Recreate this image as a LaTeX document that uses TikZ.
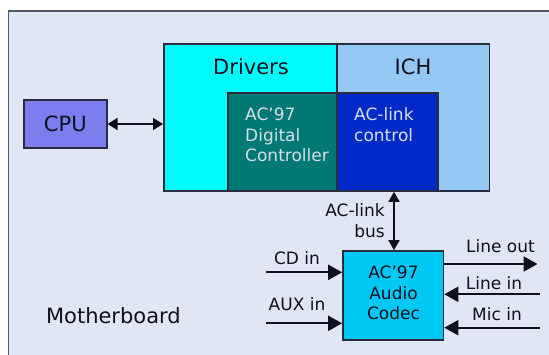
\documentclass[tikz,border=0pt]{standalone}
\usepackage{fontspec}
\setmainfont{DejaVu Sans}
\usetikzlibrary{positioning,arrows.meta}
\definecolor{board}{RGB}{224, 230, 246}
\definecolor{edge}{RGB}{40, 44, 60}
\definecolor{ink}{RGB}{15, 15, 30}
\definecolor{pale}{RGB}{215, 222, 230}
\definecolor{drv}{RGB}{0, 252, 250}
\definecolor{ich}{RGB}{150, 200, 245}
\definecolor{dig}{RGB}{0, 120, 115}
\definecolor{lnk}{RGB}{0, 42, 200}
\definecolor{cpu}{RGB}{125, 125, 240}
\definecolor{cdc}{RGB}{0, 200, 245}
\def\bigfont{\fontsize{21}{25}\selectfont}
\def\smallfont{\fontsize{17}{20.7}\selectfont}
\newcommand{\boxnode}[6]{\node[draw=edge,line width=1.6pt,inner sep=0pt,minimum width=#4pt,minimum height=#5pt,fill=#6] (#3) at (#1,#2) {};}
\tikzset{lbl/.style={inner sep=0pt,text=ink,font=\smallfont},
	sig/.style={line width=1.8pt,draw=ink,-{Triangle[length=14pt,width=15pt]}}}

\begin{document}
\begin{tikzpicture}[x=1pt,y=-1pt]
	\useasboundingbox (0,0) rectangle (549,354);
	\clip (0,0) rectangle (549,354);
	\fill[white] (0,0) rectangle (549,354);
	\draw[draw=edge!80,fill=board,line width=1.6pt] (8.4,11) rectangle (570,380);

	\boxnode{250.25}{117.5}{drivers}{172.9}{147}{drv}
	\boxnode{413}{117.5}{ich}{152.6}{147}{ich}
	\boxnode{282.3}{142}{digital}{108.8}{98}{dig}
	\boxnode{387.45}{142}{aclink}{101.5}{98}{lnk}
	\boxnode{65.3}{124}{cpu}{83}{48}{cpu}
	\boxnode{393.25}{295.5}{codec}{100.5}{89}{cdc}

	\node[lbl,font=\bigfont] (drvtext) at (251,67) {Drivers};
	\node[lbl,font=\bigfont] (ichtext) at (413,67) {ICH};
	\node[lbl,font=\bigfont] (cputext) at (cpu) {CPU};
	\node[lbl,text=pale,align=left,anchor=north west] (digtext) at (245,107.5) {AC’97\\Digital\\Controller};
	\node[lbl,text=pale,align=left,anchor=north west] (lnktext) at (354,107.5) {AC-link\\control};
	\node[lbl,align=center] (cdctext) at (393.5,293) {AC’97\\Audio\\Codec};
	\node[lbl,align=right,anchor=east] (bustext) at (385,221) {AC-link\\bus};
	\node[lbl,font=\bigfont] (mbtext) at (113.4,316) {Motherboard};

	\coordinate (cdin) at (266,272.3);
	\coordinate (auxin) at (266,323.3);
	\coordinate (lineout) at (537.5,264);
	\coordinate (linein) at (540,294.3);
	\coordinate (micin) at (540,327.7);
	\coordinate (bus) at (394,0);

	\node[lbl] (cdlbl) at (297,258) {CD in};
	\node[lbl] (auxlbl) at (297,304) {AUX in};
	\node[lbl] (outlbl) at (500.5,246) {Line out};
	\node[lbl] (inlbl) at (494,283) {Line in};
	\node[lbl] (miclbl) at (497,314) {Mic in};

	\draw[line width=1.6pt,draw=ink,{Triangle[length=10pt,width=12pt]}-{Triangle[length=10pt,width=12pt]}] (cpu.east) -- (cpu.east -| drivers.west);
	\draw[line width=1.6pt,draw=ink,{Triangle[length=10pt,width=11pt]}-{Triangle[length=10pt,width=11pt]}] (codec.north -| bus) -- (ich.south -| bus);
	\draw[sig] (cdin) -- (cdin -| codec.west);
	\draw[sig] (auxin) -- (auxin -| codec.west);
	\draw[sig] (lineout -| codec.east) -- (lineout);
	\draw[sig] (linein) -- (linein -| codec.east);
	\draw[sig] (micin) -- (micin -| codec.east);
\end{tikzpicture}
\end{document}
